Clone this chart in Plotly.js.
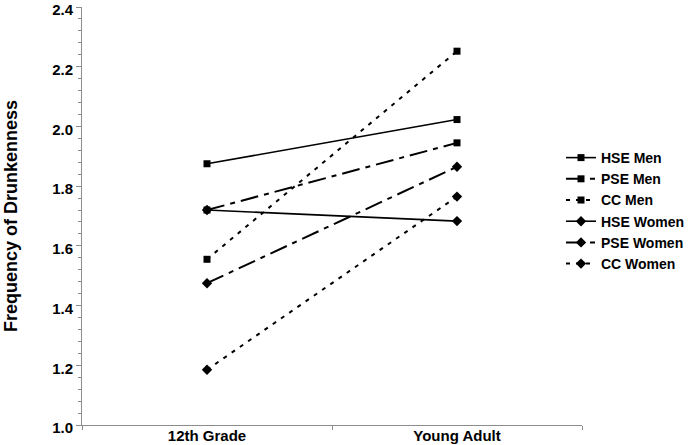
<!DOCTYPE html>
<html><head><meta charset="utf-8">
<script src="https://cdn.plot.ly/plotly-3.0.1.min.js"></script>
<style>html,body{margin:0;padding:0;background:#fff}#chart{width:700px;height:445px}</style>
</head><body><div id="chart"></div>
<script>
const categories = ["12th Grade", "Young Adult"];
const seriesNames = ["HSE Men", "PSE Men", "CC Men", "HSE Women", "PSE Women", "CC Women"];
const hseMen = [1.875, 2.023];
const pseMen = [1.72, 1.945];
const ccMen = [1.555, 2.252];
const hseWomen = [1.72, 1.683];
const pseWomen = [1.475, 1.865];
const ccWomen = [1.185, 1.765];
const yTicks = [1.0, 1.2, 1.4, 1.6, 1.8, 2.0, 2.2, 2.4];

const values = [hseMen, pseMen, ccMen, hseWomen, pseWomen, ccWomen];
const dashes = ["solid", "18px,6px,5px,6px", "4px,6px", "solid", "18px,6px,5px,6px", "4px,6px"];
const widths = [1.6, 2, 2, 1.6, 2, 2];
const symbols = ["square", "square", "square", "diamond", "diamond", "diamond"];

const traces = values.map((v, i) => ({
  x: categories, y: v, name: seriesNames[i], type: "scatter", mode: "lines+markers",
  line: {color: "#000", width: widths[i], dash: dashes[i]},
  marker: {color: "#000", symbol: symbols[i], size: symbols[i] === "square" ? 7 : 8}
}));

const layout = {
  width: 700, height: 445,
  margin: {l: 82, r: 118, t: 7, b: 20},
  paper_bgcolor: "#fff", plot_bgcolor: "#fff",
  font: {family: "Liberation Sans, Arial, sans-serif", color: "#000"},
  showlegend: true,
  legend: {x: 0.958, y: 0.677, xanchor: "left", yanchor: "top",
           font: {size: 14, family: "Liberation Sans, Arial, sans-serif", weight: "bold"},
           bgcolor: "rgba(0,0,0,0)", itemwidth: 30, tracegroupgap: 0},
  xaxis: {type: "category", range: [-0.5, 1.5], tickson: "boundaries",
          showline: true, linecolor: "#8c8c8c", linewidth: 1,
          ticks: "outside", ticklen: 4, tickcolor: "#8c8c8c",
          ticklabelstandoff: -3,
          showgrid: false, zeroline: false,
          tickfont: {size: 15, weight: "bold"}},
  yaxis: {range: [1.0, 2.4], tickmode: "array", tickvals: yTicks, ticktext: yTicks.map(t => t.toFixed(1)),
          showline: true, linecolor: "#8c8c8c", linewidth: 1,
          ticks: "outside", ticklen: 5, tickcolor: "#8c8c8c",
          ticklabeloverflow: "allow", ticklabelshift: 3,
          minor: {tick0: 1.0, dtick: 0.04, ticks: "outside", ticklen: 3, tickcolor: "#8c8c8c", showgrid: false},
          showgrid: false, zeroline: false,
          tickfont: {size: 15, weight: "bold"},
          title: {text: "Frequency of Drunkenness", font: {size: 18, weight: "bold"}, standoff: 29}}
};

Plotly.newPlot("chart", traces, layout, {displayModeBar: false, staticPlot: true});
</script></body></html>
